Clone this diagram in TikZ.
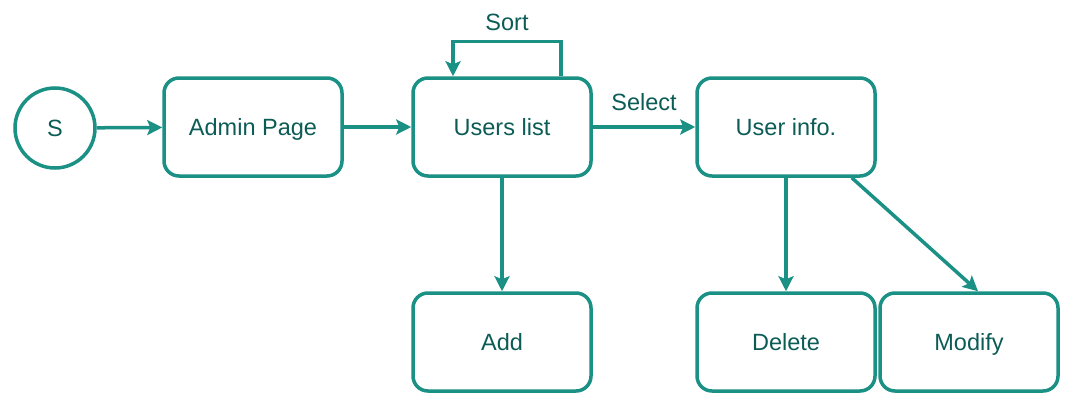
\documentclass[tikz,border=0pt]{standalone}
\usepackage{fontspec}
\setmainfont{Liberation Sans}
\usetikzlibrary{arrows.meta}
\definecolor{flowline}{RGB}{27,145,134}
\definecolor{flowtext}{RGB}{12,92,86}
\begin{document}
\begin{tikzpicture}[x=1pt, y=-1pt,
    font=\fontsize{23.5}{27}\selectfont,
    line width=3.5pt,
    >={Stealth[length=15pt, width=15pt, inset=3pt]},
    txt/.style={text=flowtext, text height=19pt, text depth=2pt},
    state/.style={txt, rounded corners=15pt, draw=flowline, minimum width=178pt, minimum height=98pt},
    start/.style={txt, circle, draw=flowline, minimum size=80pt, inner sep=0pt}]
        \useasboundingbox (0,0) rectangle (1078,415);

        \node[start] (s)     at (55,128)   {S};
        \node[state] (admin) at (253,127)  {Admin Page};
        \node[state] (users) at (502,127)  {Users list};
        \node[state] (info)  at (786,127)  {User info.};
        \node[state] (add)   at (502,342)  {Add};
        \node[state] (del)   at (786,342)  {Delete};
        \node[state] (mod)   at (969,342)  {Modify};

        \draw[->, flowline] (s) -- (admin);
        \draw[->, flowline] (admin) -- (users);
        \draw[->, flowline] (users) -- node[txt, above=9pt] {Select} (info);
        \draw[->, flowline] ([xshift=59pt]users.north) -- ++(0,-35) -| node[txt, pos=0.25, above=4pt] {Sort} ([xshift=-49pt]users.north);
        \draw[->, flowline] (users) -- (add);
        \draw[->, flowline] (info) -- (del);
        \draw[->, flowline] ([xshift=-25pt]info.south east) -- ([xshift=9pt]mod.north);
    \end{tikzpicture}
\end{document}
